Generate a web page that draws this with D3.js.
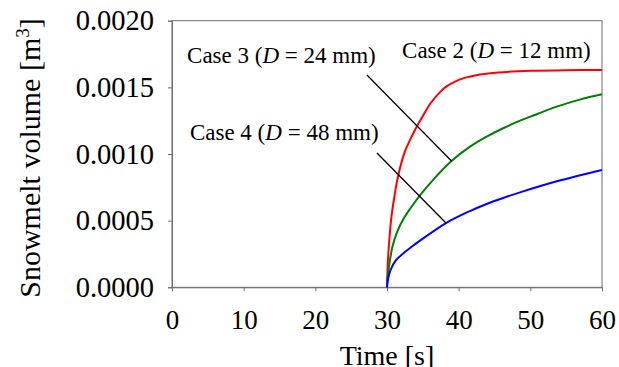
<!DOCTYPE html>
<html>
<head>
<meta charset="utf-8">
<script src="https://cdn.jsdelivr.net/npm/d3@7"></script>
<style>
  html, body { margin: 0; padding: 0; background: #fff; }
  svg { display: block; }
  svg text { font-family: 'Liberation Serif', 'Times New Roman', serif; fill: #000; }
</style>
</head>
<body>
<svg id="chart"></svg>
<script>
// values
const case2Time = [30, 30.1, 30.3, 30.6, 31.0, 31.58, 32.5, 33.3, 34.14, 35, 36, 37.5, 38.3, 39.5, 40.6, 43, 45.5, 50, 55, 60]
const case2Vol = [0, 0.00017, 0.00034, 0.00052, 0.00067, 0.000843, 0.00102, 0.001115, 0.001205, 0.001285, 0.001375, 0.00147, 0.001507, 0.001543, 0.001567, 0.001596, 0.001612, 0.001624, 0.001629, 0.00163]

const case3Time = [30, 30.04, 30.28, 30.74, 31.44, 32.37, 33.3, 34.6, 36.5, 39, 41.58, 43.9, 46.2, 48.56, 50, 53.7, 57, 60]
const case3Vol = [0, 0.000055, 0.000155, 0.0003, 0.00042, 0.00052, 0.000595, 0.00069, 0.00081, 0.000947, 0.001055, 0.00113, 0.001193, 0.00125, 0.00128, 0.001355, 0.00141, 0.001448]

const case4Time = [30, 30.14, 30.5, 31.2, 32.13, 33.3, 34.6, 38.23, 41.58, 43.9, 46.2, 48.56, 53.7, 60]
const case4Vol = [0, 0.00006, 0.00013, 0.0002, 0.000248, 0.000298, 0.00035, 0.000482, 0.000572, 0.000625, 0.00067, 0.000712, 0.000795, 0.00088]

const xTicks = [0, 10, 20, 30, 40, 50, 60]
const yTicks = [0, 0.0005, 0.001, 0.0015, 0.002]

// annotation labels: [time, volume] of text start, and leader lines in data units
const labelNames = ['Case 2', 'Case 3', 'Case 4']
const labelDiam = ['12', '24', '48']
const labelAt = [[32.1, 0.00172], [2.1, 0.00168], [2.5, 0.001105]]
const leaderFrom = [null, [27.2, 0.001593], [28.6, 0.001007]]
const leaderTo = [null, [39.0, 0.000947], [38.23, 0.000482]]

const colors = ['#ff0000', '#008000', '#0000ff']

const w = 619
const h = 367
const padLeft = 172
const padRight = 602
const padTop = 20.7
const padBottom = 287.3

const svg = d3.select('#chart').attr('width', w).attr('height', h)

const x = d3.scaleLinear().domain([0, 60]).range([padLeft, padRight])
const y = d3.scaleLinear().domain([0, 0.002]).range([padBottom, padTop])

// frame
svg.append('rect')
  .attr('x', padLeft).attr('y', padTop)
  .attr('width', padRight - padLeft).attr('height', padBottom - padTop)
  .attr('fill', 'none').attr('stroke', '#6e6e6e').attr('stroke-width', 1)

const xaxis = d3.axisBottom(x).tickValues(xTicks).tickSizeOuter(0).tickSize(4).tickPadding(19)
const yaxis = d3.axisLeft(y).tickValues(yTicks).tickSizeOuter(0).tickSize(4)
  .tickPadding(14).tickFormat(d3.format('.4f'))

const gx = svg.append('g').attr('transform', `translate(0, ${padBottom})`).call(xaxis)
const gy = svg.append('g').attr('transform', `translate(${padLeft}, 0)`).call(yaxis)

for (const g of [gx, gy]) {
  g.select('.domain').attr('stroke', '#6e6e6e')
  g.selectAll('.tick line').attr('stroke', '#6e6e6e')
}
gx.selectAll('.tick text').style('font-size', '27px')
gy.selectAll('.tick text').style('font-size', '28.5px')

// axis titles
svg.append('text')
  .attr('x', (padLeft + padRight) / 2)
  .attr('y', 365)
  .attr('text-anchor', 'middle')
  .style('font-size', '28px')
  .text('Time [s]')

const yt = svg.append('text')
  .attr('transform', `translate(40, 158) rotate(-90)`)
  .attr('text-anchor', 'middle')
  .style('font-size', '30px')
yt.append('tspan').text('Snowmelt volume [m')
yt.append('tspan').attr('dy', -11).style('font-size', '19px').text('3')
yt.append('tspan').attr('dy', 11).text(']')

// curves
const series = [
  case2Time.map((t, i) => [t, case2Vol[i]]),
  case3Time.map((t, i) => [t, case3Vol[i]]),
  case4Time.map((t, i) => [t, case4Vol[i]]),
]

const line = d3.line()
  .x((d) => x(d[0]))
  .y((d) => y(d[1]))
  .curve(d3.curveCatmullRom.alpha(0.5))

svg.selectAll('path.curve')
  .data(series)
  .enter()
  .append('path')
  .attr('class', 'curve')
  .attr('d', line)
  .attr('fill', 'none')
  .attr('stroke', (_, i) => colors[i])
  .attr('stroke-width', 2)

// leader lines
labelNames.forEach((_, i) => {
  if (!leaderFrom[i]) return
  svg.append('line')
    .attr('x1', x(leaderFrom[i][0])).attr('y1', y(leaderFrom[i][1]))
    .attr('x2', x(leaderTo[i][0])).attr('y2', y(leaderTo[i][1]))
    .attr('stroke', '#000').attr('stroke-width', 1.3)
})

// labels
labelNames.forEach((name, i) => {
  const t = svg.append('text')
    .attr('x', x(labelAt[i][0]))
    .attr('y', y(labelAt[i][1]))
    .style('font-size', '23px')
  t.append('tspan').text(name + ' (')
  t.append('tspan').attr('font-style', 'italic').text('D')
  t.append('tspan').text(` = ${labelDiam[i]} mm)`)
})
</script>
</body>
</html>
